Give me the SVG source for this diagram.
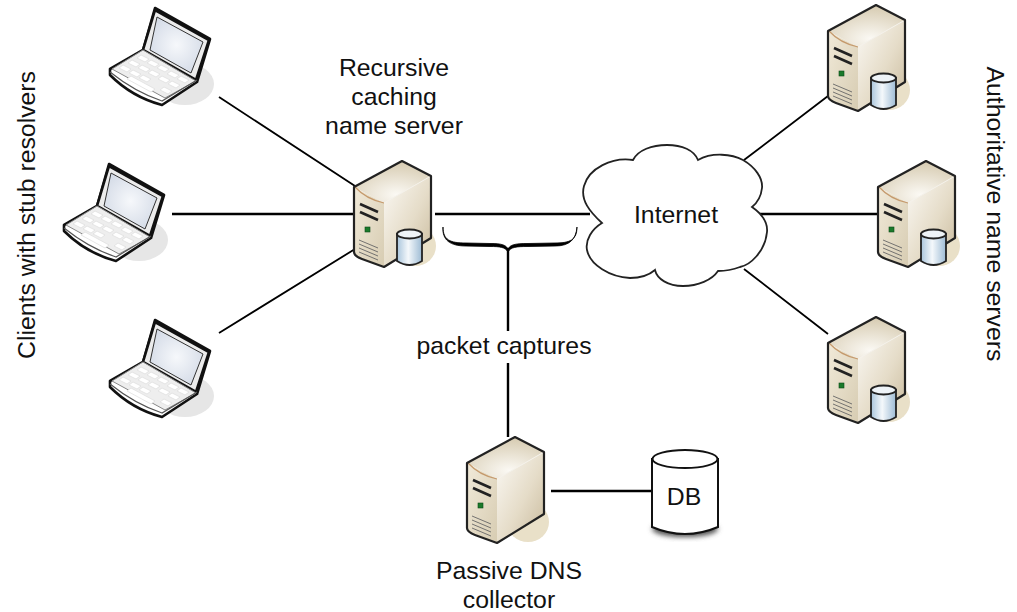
<svg xmlns="http://www.w3.org/2000/svg" width="1017" height="612" viewBox="0 0 1017 612">
<style>
text{font-family:"Liberation Sans",Arial,sans-serif;font-size:24.800px;fill:#111;text-anchor:middle}
.c{stroke:#000;fill:none;stroke-linecap:butt}
.o{stroke:#111;stroke-width:2.6;stroke-linejoin:round}
.k{fill:#fff;stroke:#dcdcdc;stroke-width:.7}
.v{fill:none;stroke:#666;stroke-width:.9}
</style>
<defs>
<linearGradient id="side" x1="0" y1="0" x2="1" y2="1"><stop offset="0" stop-color="#fbf9f5"/><stop offset=".55" stop-color="#e5dcc8"/><stop offset="1" stop-color="#c8b99b"/></linearGradient>
<linearGradient id="front" x1="0" y1="0" x2="1" y2="1"><stop offset="0" stop-color="#f1ead9"/><stop offset="1" stop-color="#d7ccb2"/></linearGradient>
<radialGradient id="top" cx=".55" cy=".8" r=".75"><stop offset="0" stop-color="#fbf9f4"/><stop offset="1" stop-color="#d8cdb4"/></radialGradient>
<linearGradient id="cylfill"><stop offset="0" stop-color="#a9c5dc"/><stop offset=".45" stop-color="#f4f8fb"/><stop offset="1" stop-color="#9dbbd4"/></linearGradient>
<radialGradient id="scr" cx=".5" cy=".5" r=".6"><stop offset="0" stop-color="#f6f8fb"/><stop offset="1" stop-color="#d3dae6"/></radialGradient>
<filter id="soft" x="-30%" y="-30%" width="160%" height="160%"><feGaussianBlur stdDeviation="2.500"/></filter>
<g id="laptop">
<ellipse cx="185" cy="84" rx="29" ry="21" fill="#e6e6e6"/>
<path class="o" d="M155 8L210 39L197 82L162 105Q132 97 110 75L110 69L143 50Z" fill="#fff"/>
<path d="M155 10L209 40L196 80L143 50Z" fill="#ececec" stroke="#111" stroke-width="2.600" stroke-linejoin="round"/>
<path d="M157 17L203 42L191 73L150 50Z" fill="url(#scr)" stroke="#333" stroke-width="1"/>
<path d="M143 50L196 81L165 98L112 69Z" fill="#eeeeee" stroke="#888" stroke-width="1"/>
<path class="k" d="M141 55l8 4l-4 3l-8-4zM151 60l8 4l-4 3l-8-4zM161 65l8 4l-4 3l-8-4zM171 71l8 4l-4 3l-8-4zM181 76l8 4l-4 3l-8-4zM132 60l8 4l-4 3l-8-4zM142 65l8 4l-4 3l-8-4zM152 70l8 4l-4 3l-8-4zM162 76l8 4l-4 3l-8-4zM172 81l8 4l-4 3l-8-4zM123 65l8 4l-4 3l-8-4zM133 70l8 4l-4 3l-8-4zM143 75l8 4l-4 3l-8-4zM164 87l8 4l-4 3l-8-4zM131 76l24 13l-4 3l-24-13z"/>
<path d="M110 72Q135 92 162 101L197 80" fill="none" stroke="#555" stroke-width="1.200"/>
</g>
<g id="server">
<ellipse cx="415" cy="246" rx="21" ry="20" fill="#e9e0c8"/>
<path d="M354 187L402 161L431 176L384 203Z" fill="url(#top)"/>
<path d="M384 203L431 176V238L384 267Z" fill="url(#side)"/>
<path d="M354 187L384 203V267L354 255Z" fill="url(#front)"/>
<path d="M355 187Q366 199 384 203" fill="none" stroke="#c59a6d" stroke-width="1.200"/>
<path d="M384 203L431 176" fill="none" stroke="#f4f1ea" stroke-width="1"/>
<path d="M354 187L402 161L431 176V238L384 267L362 259Q354 256 354 252Z" fill="none" stroke="#222" stroke-width="2.200" stroke-linejoin="round"/>
<path d="M360 204L378 212M360 212L378 220" fill="none" stroke="#222" stroke-width="2.600"/>
<rect x="365" y="227" width="5" height="5" fill="#1a7a2a" stroke="#0d4a18" stroke-width=".6"/>
<path class="v" d="M359 240L378 248M359 244L378 252M359 248L378 256M359 252L378 260"/>
</g>
<g id="dbicon">
<path d="M397 234V261Q409.500 269 422 261V234Z" fill="url(#cylfill)" stroke="#222" stroke-width="1.800"/>
<ellipse cx="409.500" cy="234" rx="12.500" ry="4.500" fill="#eef3f7" stroke="#222" stroke-width="1.800"/>
</g>
</defs>
<g id="connectors">
<path class="c" stroke-width="1.800" d="M219 97L355 186M219 333L355 249M744 160L828 96M744 269L828 334"/>
<path class="c" stroke-width="2.400" d="M172 214H354M435 214H590M760 214H878M508 248V331M508 363V437M551 491H654"/>
<path d="M443 227C443 240 450 243 466 243L490 243.500C502 243.500 506 245 508 249C510 245 514 243.500 528 243.500L555 243C570 243 577 240 577 227C576 239 570 246 555 246L528 246.500C516 246.500 511 247 508 252C505 247 500 246.500 490 246.500L466 246C450 246 442 240 443 227Z" fill="#000" stroke="#000" stroke-width=".8"/>
</g>
<g id="client-1"><use href="#laptop"/></g>
<g id="client-2"><use href="#laptop" x="-46" y="156"/></g>
<g id="client-3"><use href="#laptop" y="312"/></g>
<g id="recursive-server"><use href="#server"/><use href="#dbicon"/></g>
<g id="auth-1"><use href="#server" x="474" y="-156"/><use href="#dbicon" x="474" y="-156"/></g>
<g id="auth-2"><use href="#server" x="524"/><use href="#dbicon" x="524"/></g>
<g id="auth-3"><use href="#server" x="474" y="156"/><use href="#dbicon" x="474" y="156"/></g>
<g id="collector"><use href="#server" x="113" y="276"/></g>
<g id="internet">
<path d="M602 223C590 212 580 200 584 186C589 168 612 157 633 160C638 150 652 145 667 145C682 145 694 150 698 160C712 152 732 154 743 160C755 167 763 178 762 188C761 197 757 203 752 207C762 214 768 222 767 232C765 252 750 265 740 267C732 270 725 271 718 271C712 280 698 286 683 286C668 286 657 279 655 270C648 276 638 278 630 278C610 277 590 265 587 250C585 240 592 229 602 223Z" fill="#fff" stroke="#222" stroke-width="1.800"/>
<text x="676" y="223">Internet</text>
</g>
<g id="db">
<ellipse cx="685" cy="529" rx="33" ry="8" fill="#555" filter="url(#soft)"/>
<path d="M652 459V527Q685 541 718 527V459Z" fill="#fff" stroke="#111" stroke-width="2"/>
<ellipse cx="685" cy="459" rx="32.500" ry="9" fill="#fff" stroke="#111" stroke-width="2"/>
<text x="684" y="505">DB</text>
</g>
<g id="labels">
<text x="394" y="76">Recursive</text>
<text x="394" y="105">caching</text>
<text x="394" y="134">name server</text>
<text x="504" y="354">packet captures</text>
<text x="509" y="579">Passive DNS</text>
<text x="509" y="608">collector</text>
<text transform="translate(35 215) rotate(-90)">Clients with stub resolvers</text>
<text transform="translate(987 214) rotate(90)">Authoritative name servers</text>
</g>
</svg>
